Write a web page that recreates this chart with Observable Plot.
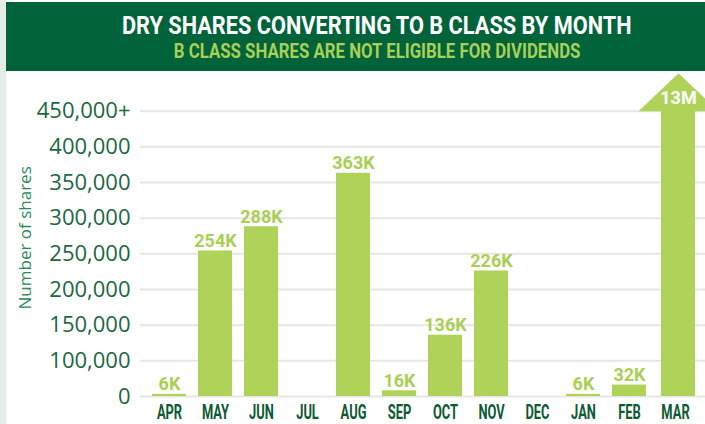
<!DOCTYPE html>
<html>
<head>
<meta charset="utf-8">
<script src="https://cdn.jsdelivr.net/npm/d3@7"></script>
<script src="https://cdn.jsdelivr.net/npm/@observablehq/plot@0.6"></script>
<style>
html, body { margin: 0; padding: 0; background: #ffffff; }
body { width: 705px; height: 424px; overflow: hidden; position: relative; }
#strip { position: absolute; left: 0; top: 0; width: 6px; height: 424px; background: #e4eee7; }
#banner { position: absolute; left: 6px; top: 2px; width: 699px; height: 69px; background: #00633a; }
.head { position: absolute; left: 0; width: 754px; text-align: center; white-space: nowrap;
  font-family: Roboto, sans-serif; font-weight: 700; }
.head span { display: inline-block; transform-origin: center; }
#title { top: 9px; color: #ffffff; font-size: 26.5px; line-height: 32px; }
#title span { transform: scaleX(0.82); }
#subtitle { top: 38px; color: #a9d057; font-size: 21px; line-height: 26px; }
#subtitle span { transform: scaleX(0.8); }
#chart { position: absolute; left: 0; top: 72px; }
</style>
</head>
<body>
<div id="strip"></div>
<div id="banner"></div>
<div id="title" class="head"><span>DRY SHARES CONVERTING TO B CLASS BY MONTH</span></div>
<div id="subtitle" class="head"><span>B CLASS SHARES ARE NOT ELIGIBLE FOR DIVIDENDS</span></div>
<div id="chart"></div>
<script>
const months = ["APR", "MAY", "JUN", "JUL", "AUG", "SEP", "OCT", "NOV", "DEC", "JAN", "FEB", "MAR"];
const shares = [6000, 254000, 288000, null, 363000, 16000, 136000, 226000, null, 6000, 32000, 13000000];
const valueLabels = ["6K", "254K", "288K", null, "363K", "16K", "136K", "226K", null, "6K", "32K", "13M"];
const yTicks = [0, 100000, 150000, 200000, 250000, 300000, 350000, 400000, 450000];
const yTickLabels = ["0", "100,000", "150,000", "200,000", "250,000", "300,000", "350,000", "400,000", "450,000+"];
const axisTitle = ["Number of shares"];
const overflowMonth = "MAR";

const data = months.map((m, i) => ({month: m, value: shares[i], label: valueLabels[i]}));
const regular = data.filter(d => d.value != null && d.month !== overflowMonth);
const overflow = data.filter(d => d.month === overflowMonth);

const condFont = "Roboto, sans-serif";
const lime = "#afd259";

const arrowHead = {
  draw(context, size) {
    const s = Math.sqrt(size / Math.PI);
    context.moveTo(-s, 0);
    context.lineTo(s, 0);
    context.lineTo(0, -0.95 * s);
    context.closePath();
  }
};

const chart = Plot.plot({
  width: 705,
  height: 352,
  marginLeft: 140,
  marginRight: 0,
  marginTop: 38.7,
  marginBottom: 28,
  style: {background: "transparent", color: "#1d6b45", overflow: "visible"},
  x: {domain: months, padding: 0.26, label: null},
  y: {type: "linear", domain: yTicks, clamp: true, label: null},
  marks: [
    Plot.gridY(yTicks, {stroke: "#e6e6e6", strokeOpacity: 1, strokeWidth: 2}),
    Plot.barY(regular, {x: "month", y: "value", fill: lime}),
    Plot.barY(overflow, {x: "month", y: "value", fill: lime, dx: 3}),
    Plot.dot(overflow, {x: "month", y: "value", r: 40, symbol: arrowHead, fill: lime, stroke: null, dx: 3}),
    Plot.text(regular, {x: "month", y: "value", text: "label", lineAnchor: "bottom", dy: -4,
      fill: "#a9cf55", fontSize: 18, fontWeight: "bold", fontFamily: condFont, ariaLabel: "cond-label"}),
    Plot.text(overflow, {x: "month", y: "value", text: "label", dy: -13, dx: 3,
      fill: "#ffffff", fontSize: 18, fontWeight: "bold", fontFamily: condFont, ariaLabel: "cond-label"}),
    Plot.axisY(yTicks, {tickFormat: d => yTickLabels[yTicks.indexOf(d)], tickSize: 0, tickPadding: 10,
      fontSize: 22, fontFamily: "'Open Sans', sans-serif", fontWeight: 400, fill: "#1a6842", label: null}),
    Plot.axisX({tickSize: 0, tickPadding: 9, fontSize: 19.5, fontWeight: "bold", fontFamily: condFont,
      fill: "#0b5a32", label: null}),
    Plot.text(axisTitle, {frameAnchor: "left", dx: -115, dy: -16, rotate: -90, text: d => d, textAnchor: "middle",
      fill: "#2b8a5a", fontSize: 17, fontFamily: "'Open Sans', sans-serif", fontWeight: 400})
  ]
});
document.getElementById("chart").appendChild(chart);

function condense(selector, factor) {
  chart.querySelectorAll(selector).forEach(t => {
    const len = t.getComputedTextLength();
    if (len > 0) {
      t.setAttribute("textLength", (len * factor).toFixed(2));
      t.setAttribute("lengthAdjust", "spacingAndGlyphs");
    }
  });
}
condense('g[aria-label="cond-label"] text', 0.82);
condense('g[aria-label="x-axis tick label"] text', 0.66);
</script>
</body>
</html>
